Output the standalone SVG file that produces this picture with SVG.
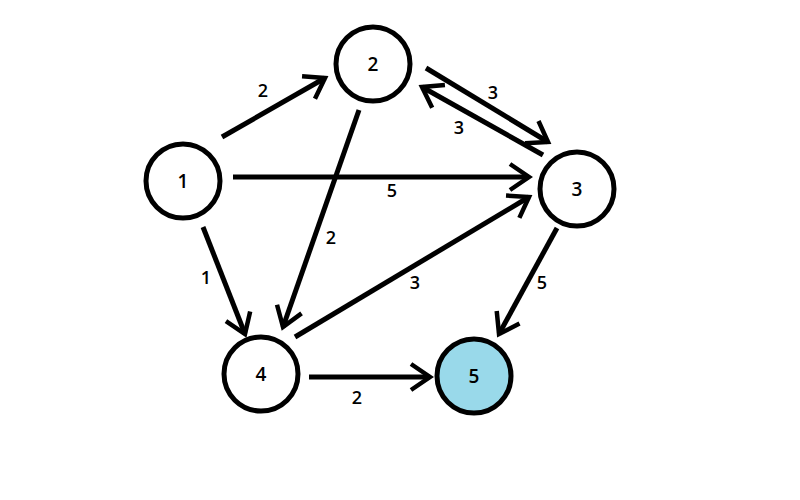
<svg xmlns="http://www.w3.org/2000/svg" width="800" height="500" viewBox="0 0 800 500">
<style>
.node circle{fill:#fff;stroke:#000;stroke-width:5}
.node text,.lbl{font-family:"Open Sans","DejaVu Sans",sans-serif;font-size:18px;font-weight:600;fill:#000;text-anchor:middle;dominant-baseline:central}
.node text{font-size:19px}
.edge{stroke:#000;stroke-width:5;fill:none;stroke-linecap:butt;marker-end:url(#arr)}
</style>
<defs>
<marker id="arr" markerUnits="userSpaceOnUse" orient="auto" markerWidth="40" markerHeight="40" refX="0" refY="0" viewBox="-25 -20 30 40" overflow="visible">
<path d="M-19,-13 L0,0 L-19,13" fill="none" stroke="#000" stroke-width="4.5" stroke-linejoin="miter"/>
</marker>
</defs>
<rect width="800" height="500" fill="#fff"/>
<g id="connectors">
<line class="edge" x1="222" y1="137" x2="325" y2="78"/>
<line class="edge" x1="233" y1="177" x2="529" y2="177"/>
<line class="edge" x1="426" y1="68" x2="548" y2="142"/>
<line class="edge" x1="543" y1="155" x2="422" y2="87"/>
<line class="edge" x1="359" y1="110" x2="283" y2="327"/>
<line class="edge" x1="203" y1="227" x2="245" y2="334"/>
<line class="edge" x1="295" y1="337" x2="529" y2="197"/>
<line class="edge" x1="557" y1="228" x2="499" y2="334"/>
<line class="edge" x1="309" y1="377" x2="430" y2="377"/>
<text class="lbl" x="263" y="90">2</text>
<text class="lbl" x="392" y="190">5</text>
<text class="lbl" x="493" y="92">3</text>
<text class="lbl" x="459" y="127">3</text>
<text class="lbl" x="331" y="237">2</text>
<text class="lbl" x="206" y="277">1</text>
<text class="lbl" x="415" y="282">3</text>
<text class="lbl" x="542" y="282">5</text>
<text class="lbl" x="357" y="397">2</text>
</g>
<g id="node1" class="node"><circle cx="183" cy="181" r="37"/><text x="183" y="181">1</text></g>
<g id="node2" class="node"><circle cx="373" cy="64" r="37"/><text x="373" y="64">2</text></g>
<g id="node3" class="node"><circle cx="577" cy="189" r="37"/><text x="577" y="189">3</text></g>
<g id="node4" class="node"><circle cx="261" cy="374" r="37"/><text x="261" y="374">4</text></g>
<g id="node5" class="node"><circle cx="474" cy="376" r="37" style="fill:#99d9ea"/><text x="474" y="376">5</text></g>
</svg>
